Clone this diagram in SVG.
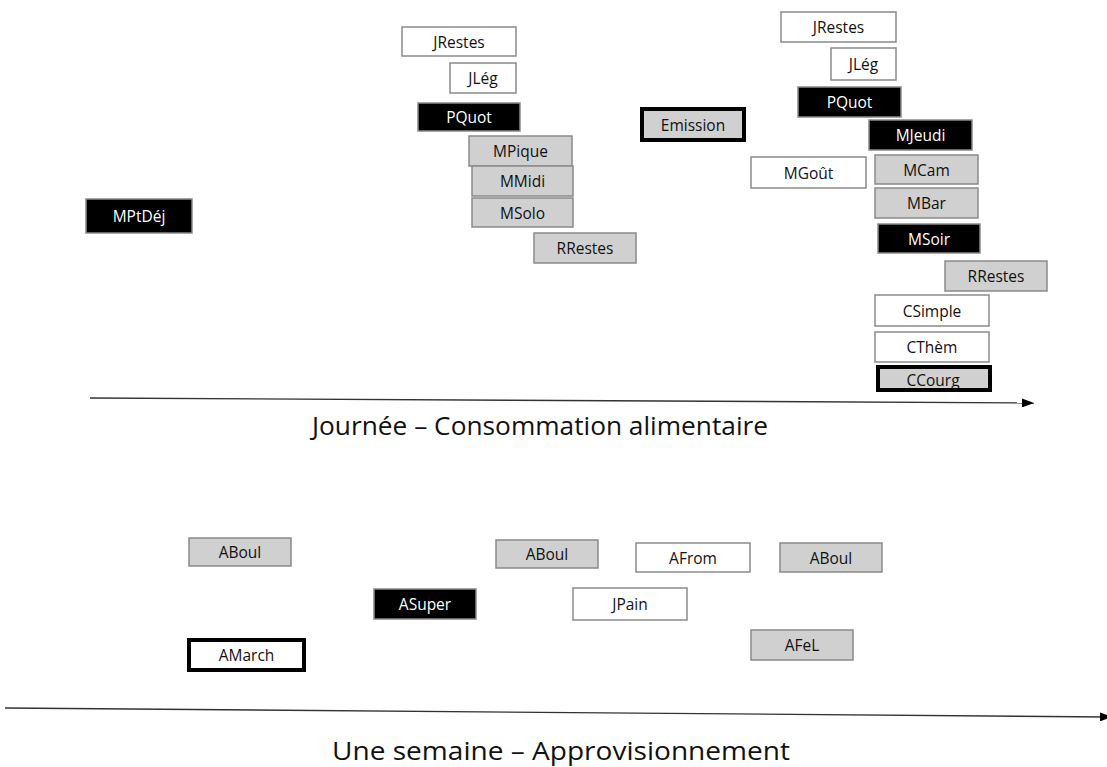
<svg xmlns="http://www.w3.org/2000/svg" width="1107" height="767" viewBox="0 0 1107 767">
  <style>
    .box rect { stroke: #8a8a8a; stroke-width: 1.5; }
    .grey rect { fill: #d0d0d0; }
    .white rect { fill: #ffffff; }
    .black rect { fill: #000000; }
    .bold rect { stroke: #000000; stroke-width: 4; }
    .box text { font-family: "Open Sans", "Liberation Sans", sans-serif; font-size: 15.5px; text-anchor: middle; dominant-baseline: central; fill: #111111; }
    .black text { fill: #ffffff; }
    .title { font-family: "Open Sans", "Liberation Sans", sans-serif; font-size: 25px; fill: #111111; text-anchor: middle; }
    .axis { stroke: #333333; stroke-width: 1.4; fill: none; }
  </style>
  <defs>
    <marker id="arrow" viewBox="0 0 12 9" refX="12" refY="4.5" markerWidth="12" markerHeight="9" markerUnits="userSpaceOnUse" orient="auto">
      <path d="M0,0 L12,4.5 L0,9 Z" fill="#000000"/>
    </marker>
  </defs>
  <rect width="1107" height="767" fill="#ffffff"/>

  <!-- Time axes -->
  <g id="connectors">
    <line class="axis" x1="90" y1="398" x2="1034" y2="403" marker-end="url(#arrow)"/>
    <line class="axis" x1="5" y1="708" x2="1112" y2="717" marker-end="url(#arrow)"/>
  </g>

  <text class="title" x="540" y="435" textLength="456" lengthAdjust="spacingAndGlyphs">Journée – Consommation alimentaire</text>
  <text class="title" x="561" y="760" textLength="458" lengthAdjust="spacingAndGlyphs">Une semaine – Approvisionnement</text>

  <!-- Day: breakfast -->
  <g id="mptdej" class="box black"><rect x="86" y="199" width="106" height="34"/><text x="139" y="216">MPtDéj</text></g>

  <!-- Day: midday -->
  <g id="jrestes1" class="box white"><rect x="402" y="27" width="114" height="29"/><text x="459" y="41.5">JRestes</text></g>
  <g id="jleg1" class="box white"><rect x="450" y="63" width="66" height="30"/><text x="483" y="78">JLég</text></g>
  <g id="pquot1" class="box black"><rect x="418" y="103" width="102" height="28"/><text x="469" y="117">PQuot</text></g>
  <g id="mpique" class="box grey"><rect x="469" y="136" width="103" height="30"/><text x="520.5" y="151">MPique</text></g>
  <g id="mmidi" class="box grey"><rect x="472" y="166" width="101" height="30"/><text x="522.5" y="181">MMidi</text></g>
  <g id="msolo" class="box grey"><rect x="472" y="198" width="101" height="29"/><text x="522.5" y="212.5">MSolo</text></g>
  <g id="rrestes1" class="box grey"><rect x="534" y="233" width="102" height="30"/><text x="585" y="248">RRestes</text></g>

  <!-- Day: afternoon -->
  <g id="emission" class="box grey bold"><rect x="642" y="109" width="102" height="31"/><text x="693" y="124.5">Emission</text></g>

  <!-- Day: evening -->
  <g id="jrestes2" class="box white"><rect x="781" y="12" width="115" height="30"/><text x="838.5" y="27">JRestes</text></g>
  <g id="jleg2" class="box white"><rect x="831" y="48" width="65" height="32"/><text x="863.5" y="64">JLég</text></g>
  <g id="pquot2" class="box black"><rect x="798" y="87" width="103" height="30"/><text x="849.5" y="102">PQuot</text></g>
  <g id="mjeudi" class="box black"><rect x="869" y="120" width="103" height="30"/><text x="920.5" y="135">MJeudi</text></g>
  <g id="mgout" class="box white"><rect x="751" y="157" width="115" height="31"/><text x="808.5" y="172.5">MGoût</text></g>
  <g id="mcam" class="box grey"><rect x="875" y="155" width="103" height="29"/><text x="926.5" y="169.5">MCam</text></g>
  <g id="mbar" class="box grey"><rect x="875" y="188" width="103" height="30"/><text x="926.5" y="203">MBar</text></g>
  <g id="msoir" class="box black"><rect x="878" y="224" width="102" height="29"/><text x="929" y="238.5">MSoir</text></g>
  <g id="rrestes2" class="box grey"><rect x="945" y="261" width="102" height="30"/><text x="996" y="276">RRestes</text></g>
  <g id="csimple" class="box white"><rect x="875" y="295" width="114" height="31"/><text x="932" y="310.5">CSimple</text></g>
  <g id="cthem" class="box white"><rect x="875" y="332" width="114" height="30"/><text x="932" y="347">CThèm</text></g>
  <g id="ccourg" class="box grey bold"><rect x="878" y="367" width="112" height="23"/><text x="933" y="380">CCourg</text></g>

  <!-- Week: supplies -->
  <g id="aboul1" class="box grey"><rect x="189" y="538" width="102" height="28"/><text x="240" y="552">ABoul</text></g>
  <g id="aboul2" class="box grey"><rect x="496" y="540" width="102" height="28"/><text x="547" y="554">ABoul</text></g>
  <g id="afrom" class="box white"><rect x="636" y="543" width="114" height="29"/><text x="693" y="557.5">AFrom</text></g>
  <g id="aboul3" class="box grey"><rect x="780" y="543" width="102" height="29"/><text x="831" y="557.5">ABoul</text></g>
  <g id="asuper" class="box black"><rect x="374" y="589" width="102" height="30"/><text x="425" y="604">ASuper</text></g>
  <g id="jpain" class="box white"><rect x="573" y="588" width="114" height="32"/><text x="630" y="604">JPain</text></g>
  <g id="amarch" class="box white bold"><rect x="189" y="640" width="115" height="30"/><text x="246.5" y="655">AMarch</text></g>
  <g id="afel" class="box grey"><rect x="751" y="630" width="102" height="30"/><text x="802" y="645">AFeL</text></g>
</svg>
